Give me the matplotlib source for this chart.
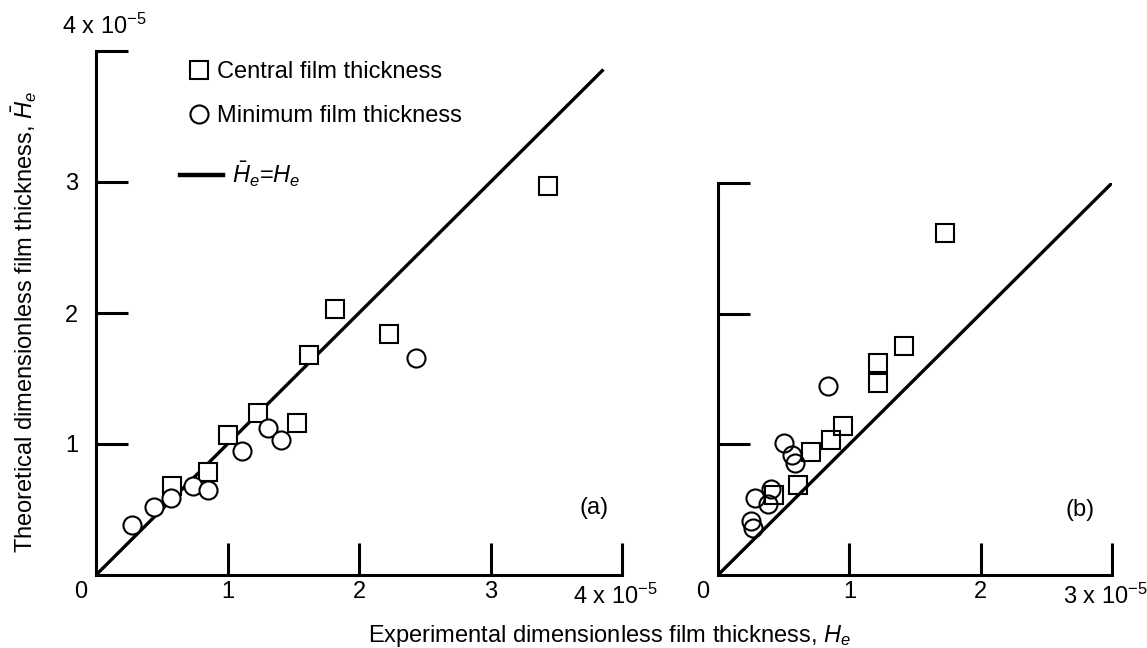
"""Theoretical vs experimental dimensionless film thickness, panels (a) and (b)."""
import matplotlib
matplotlib.use("Agg")
import matplotlib.pyplot as plt
from matplotlib.lines import Line2D

plt.rcParams["font.family"] = ["Liberation Sans", "DejaVu Sans"]
plt.rcParams["font.size"] = 17
plt.rcParams["mathtext.fontset"] = "custom"
plt.rcParams["mathtext.rm"] = "Liberation Sans"
plt.rcParams["mathtext.it"] = "Liberation Sans:italic"

# values in units of 1e-5
a_central_x = [0.58, 0.85, 1.00, 1.23, 1.53, 1.62, 1.82, 2.23, 3.44]
a_central_y = [0.68, 0.79, 1.07, 1.24, 1.16, 1.68, 2.03, 1.84, 2.97]
a_min_x = [0.27, 0.44, 0.57, 0.74, 0.85, 1.11, 1.31, 1.41, 2.43]
a_min_y = [0.38, 0.52, 0.59, 0.68, 0.65, 0.95, 1.12, 1.03, 1.66]

b_central_x = [0.43, 0.61, 0.71, 0.86, 0.95, 1.22, 1.22, 1.42, 1.73]
b_central_y = [0.61, 0.69, 0.94, 1.03, 1.14, 1.47, 1.62, 1.75, 2.62]
b_min_x = [0.25, 0.27, 0.28, 0.38, 0.40, 0.50, 0.56, 0.59, 0.84]
b_min_y = [0.41, 0.36, 0.59, 0.54, 0.66, 1.01, 0.92, 0.86, 1.45]

a_line = [0.0, 3.85]
b_line = [0.0, 3.0]

a_ticks = [1, 2, 3, 4]
b_ticks = [1, 2, 3]

W, H = 1147, 648
fig = plt.figure(figsize=(W / 100, H / 100), dpi=100)

ax_a = fig.add_axes([96 / W, 73 / H, 526 / W, 524 / H])
ax_b = fig.add_axes([718 / W, 73 / H, 394 / W, 392 / H])

mk = dict(markersize=13, markeredgewidth=1.5, markeredgecolor="black",
          linestyle="none")


def style(ax, lim, ticks, ylabels):
    ax.set_xlim(0, lim)
    ax.set_ylim(0, lim)
    for s in ("top", "right"):
        ax.spines[s].set_visible(False)
    for s in ("left", "bottom"):
        ax.spines[s].set_linewidth(2.2)
    ax.set_xticks(ticks)
    ax.set_yticks(ticks)
    ax.set_xticklabels([str(t) for t in ticks[:-1]] + [""])
    ax.set_yticklabels(ylabels)
    ax.tick_params(direction="in", length=23, width=2.2)
    ax.tick_params(axis="x", pad=4)
    ax.tick_params(axis="y", pad=13)
    ax.annotate("0", xy=(0, 0), xytext=(-11, -4), textcoords="offset points",
                ha="center", va="top")
    ax.annotate(r"%d x 10$^{-5}$" % lim, xy=(lim, 0), xytext=(-5, -6),
                textcoords="offset points", ha="center", va="top")


# panel (a)
ax_a.plot(a_line, a_line, color="black", lw=2.4, zorder=2)
ax_a.plot(a_central_x, a_central_y, marker="s", markerfacecolor="white", zorder=3, **mk)
ax_a.plot(a_min_x, a_min_y, marker="o", markerfacecolor="white", zorder=3, **mk)
style(ax_a, 4, a_ticks, ["1", "2", "3", ""])
ax_a.annotate(r"4 x 10$^{-5}$", xy=(0, 4), xytext=(6, 12), textcoords="offset points",
              ha="center", va="baseline")
ax_a.text(3.79, 0.51, "(a)", ha="center", va="center")

# panel (b)
ax_b.plot(b_line, b_line, color="black", lw=2.4, zorder=2)
ax_b.plot(b_central_x, b_central_y, marker="s", markerfacecolor="none", zorder=3, **mk)
ax_b.plot(b_min_x, b_min_y, marker="o", markerfacecolor="none", zorder=3, **mk)
style(ax_b, 3, b_ticks, ["", "", ""])
ax_b.text(2.76, 0.50, "(b)", ha="center", va="center")

# legend: marker entries and the equality line
h_sq = Line2D([], [], marker="s", markerfacecolor="white", **mk)
h_ci = Line2D([], [], marker="o", markerfacecolor="white", **mk)
leg1 = ax_a.legend([h_sq, h_ci], ["Central film thickness", "Minimum film thickness"],
                   loc="upper left", bbox_to_anchor=(187 / W, 1 - 61 / H),
                   bbox_transform=fig.transFigure, frameon=False, borderpad=0,
                   borderaxespad=0, handlelength=1.0, handletextpad=0.25,
                   labelspacing=0.95)
ax_a.add_artist(leg1)
h_ln = Line2D([], [], color="black", lw=3.2)
ax_a.legend([h_ln], [r"$\bar{H}_e$=$H_e$"], loc="upper left",
            bbox_to_anchor=(180 / W, 1 - 160 / H), bbox_transform=fig.transFigure,
            frameon=False, borderpad=0, borderaxespad=0, handlelength=1.8,
            handletextpad=0.4)

fig.text(24 / W, 1 - 322 / H, r"Theoretical dimensionless film thickness, $\bar{H}_e$",
         rotation=90, ha="center", va="center")
fig.text(368 / W, 6 / H, r"Experimental dimensionless film thickness, $H_e$",
         ha="left", va="baseline")

fig.savefig("out.png", dpi=100)
